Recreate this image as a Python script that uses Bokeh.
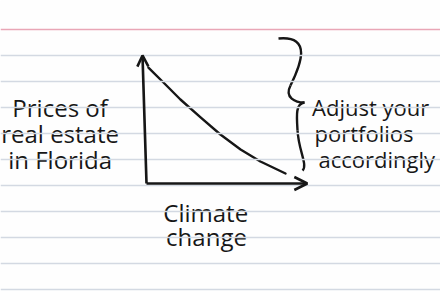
from bokeh.plotting import figure
from bokeh.models import Range1d, Span, Arrow, OpenHead, ColumnDataSource
from bokeh.core.properties import value
from bokeh.embed import file_html
from bokeh.resources import INLINE

# ---- data ----
climate_change = [0.12, 1.06, 2.12, 3.38, 4.62, 5.88, 7.12, 8.69]
price_florida = [8.92, 7.77, 6.46, 5.08, 3.77, 2.62, 1.69, 0.77]

y_label = ["Prices of", "real estate", "in Florida"]
x_label = ["Climate", "change"]
note = ["Adjust your", "portfolios", "accordingly"]

INK = "#161616"
FONT = "Open Sans"
FS = "24px"

p = figure(width=440, height=300, output_backend="svg", toolbar_location=None,
           x_range=Range1d(-9.125, 18.375), y_range=Range1d(-9.0, 14.077),
           min_border=0, background_fill_color="#fefefe", border_fill_color="#fefefe")
p.axis.visible = False
p.grid.visible = False
p.outline_line_color = None

# ruled index-card paper
for k in range(-4, 6):
    p.add_layout(Span(location=-0.154 + 2 * k, dimension="width",
                      line_color="#d3d9e2", line_width=1.5))
p.add_layout(Span(location=11.85, dimension="width", line_color="#e9a6b6", line_width=1.5))

# hand-drawn axes
p.add_layout(Arrow(x_start=0, y_start=0, x_end=-0.25, y_end=9.85, line_color=INK, line_width=2.6,
                   end=OpenHead(size=11, line_color=INK, line_width=2.6)))
p.add_layout(Arrow(x_start=0, y_start=0, x_end=10.05, y_end=0, line_color=INK, line_width=2.6,
                   end=OpenHead(size=13, line_color=INK, line_width=2.6)))

# the curve
src = ColumnDataSource(dict(x=climate_change, y=price_florida))
p.line("x", "y", source=src, line_color=INK, line_width=2.4, line_cap="round", line_join="round")

# hand-drawn curly brace (four cubic segments)
brace = dict(
    x0=[8.25, 9.0, 9.875, 9.44], y0=[11.15, 7.54, 6.23, 4.08],
    cx0=[10.4, 8.6, 9.31, 9.5], cy0=[11.4, 6.6, 6.15, 2.54],
    cx1=[9.62, 9.31, 9.38, 10.1], cy1=[9.08, 6.23, 5.23, 1.4],
    x1=[9.0, 9.875, 9.44, 9.75], y1=[7.54, 6.23, 4.08, 1.0],
)
p.bezier(source=ColumnDataSource(brace), x0="x0", y0="y0", x1="x1", y1="y1",
         cx0="cx0", cy0="cy0", cx1="cx1", cy1="cy1", line_color=INK, line_width=2.4)

# texts
p.text(x=[-5.4] * 3, y=[5.85, 3.85, 1.85], text=y_label, text_align="center",
       text_baseline="alphabetic", text_font=value(FONT), text_font_size=FS, text_color=INK)
p.text(x=[3.7, 3.75], y=[-2.25, -4.1], text=x_label, text_align="center",
       text_baseline="alphabetic", text_font=value(FONT), text_font_size=FS, text_color=INK)
p.text(x=[10.35, 10.5, 10.75], y=[5.85, 3.85, 1.85], text=note, text_align="left",
       text_baseline="alphabetic", text_font=value(FONT), text_font_size="22px", text_color=INK)

open("out.html", "w").write(file_html(p, INLINE))
